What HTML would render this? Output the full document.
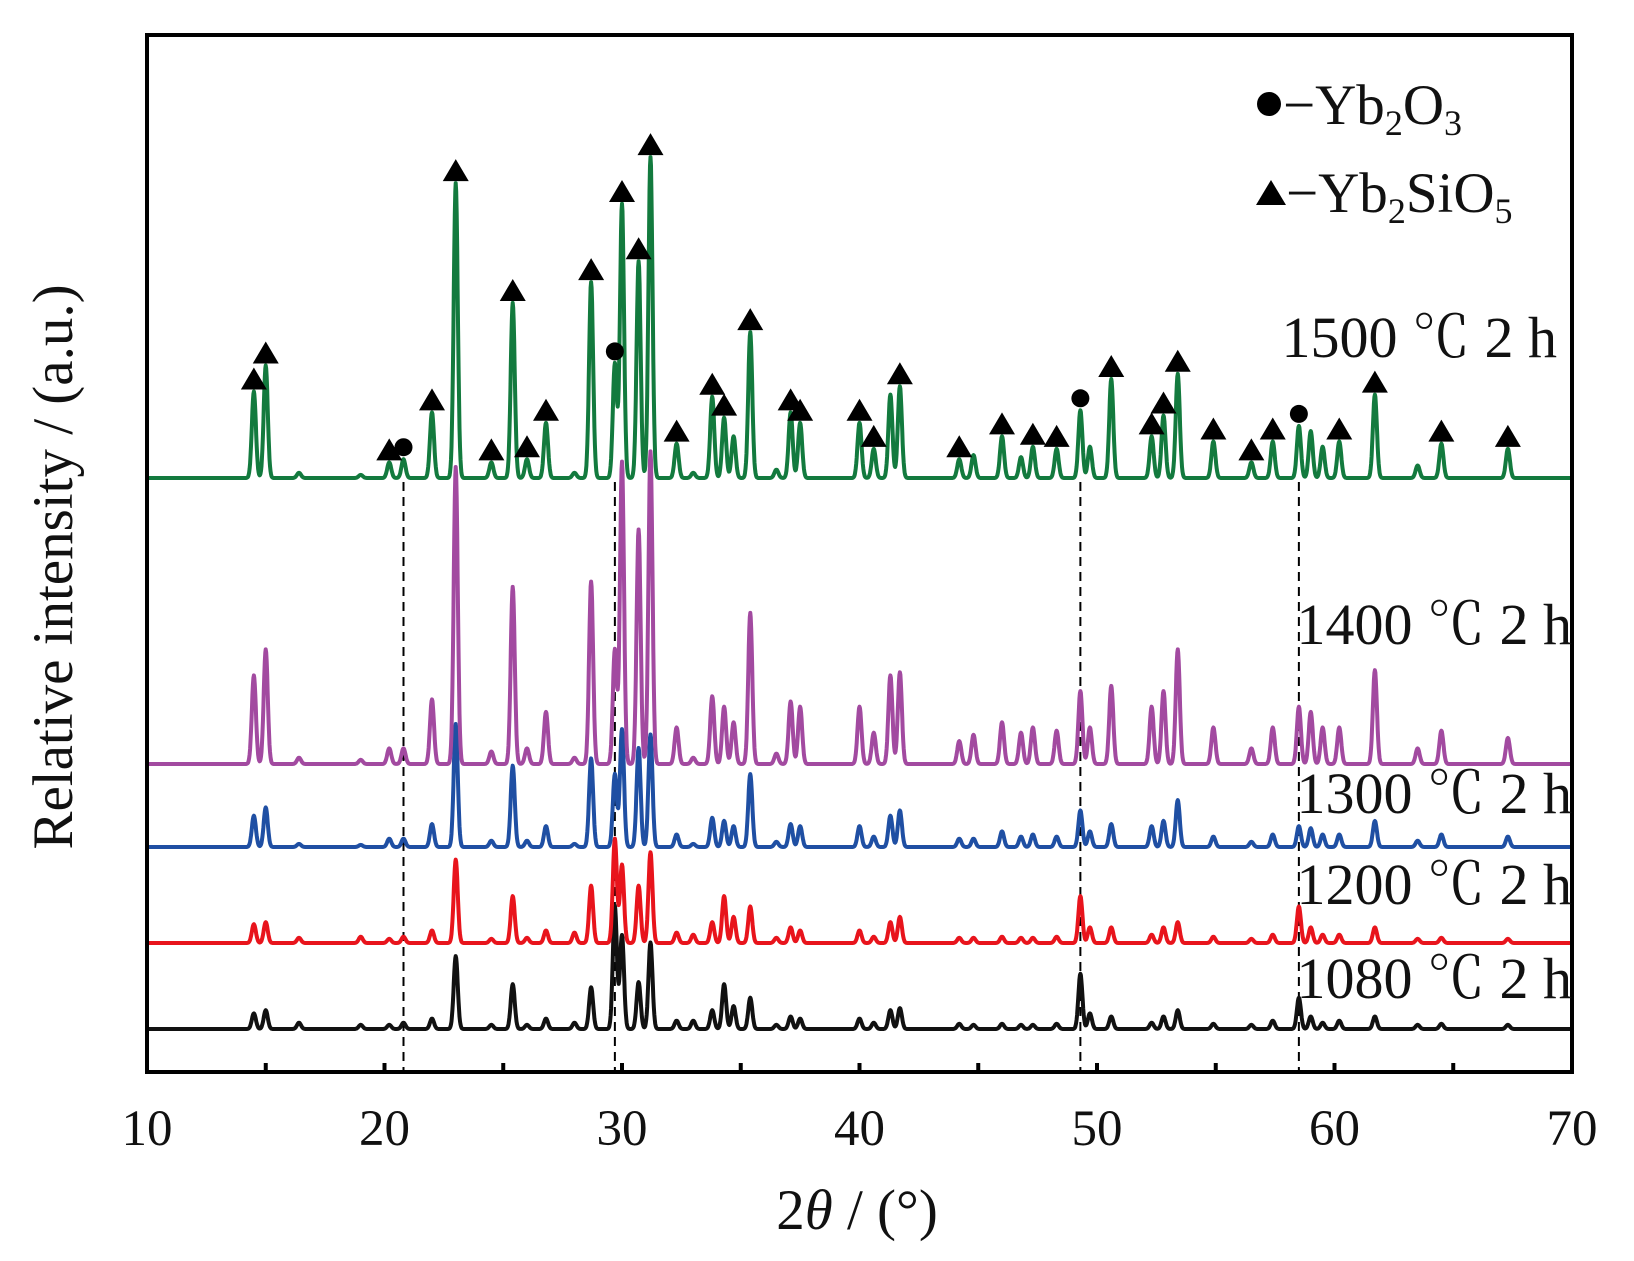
<!DOCTYPE html>
<html><head><meta charset="utf-8"><style>
html,body{margin:0;padding:0;background:#fff;}
svg{display:block;font-family:"Liberation Serif","Noto Serif CJK SC",serif;}
</style></head><body>
<svg id="chart" width="1634" height="1261" viewBox="0 0 1634 1261"></svg>
<script>
const positions=[14.5,15.0,16.4,19.0,20.2,20.8,22.0,23.0,24.5,25.4,26.0,26.8,28.0,28.7,29.7,30.0,30.7,31.2,32.3,33.0,33.8,34.3,34.7,35.4,36.5,37.1,37.5,40.0,40.6,41.3,41.7,44.2,44.8,46.0,46.8,47.3,48.3,49.3,49.7,50.6,52.3,52.8,53.4,54.9,56.5,57.4,58.5,59.0,59.5,60.2,61.7,63.5,64.5,67.3];
const green=[83,108,5,3,15,18,63,283,15,168,18,53,5,188,110,263,208,308,33,5,78,58,40,140,8,63,53,53,28,80,88,18,22,40,20,30,28,65,30,95,40,60,100,35,15,35,50,45,30,35,80,12,33,28];
const purple=[85,110,6,4,15,15,62,285,12,170,15,50,6,175,110,290,225,300,35,6,65,55,40,145,10,60,55,55,30,85,88,22,28,40,30,35,32,70,35,75,55,70,110,35,15,35,55,50,35,35,90,15,32,25];
const blue=[30,38,3,2,8,8,22,118,6,78,6,20,3,85,70,113,95,108,12,3,28,25,20,70,5,22,20,20,10,30,35,8,8,15,10,12,10,35,15,22,20,25,45,10,5,12,20,18,12,12,25,6,12,10];
const red=[18,20,5,6,4,6,12,80,4,45,5,12,10,55,100,75,55,87,10,8,20,45,25,35,5,15,12,12,6,20,25,5,5,6,5,5,6,45,15,15,8,15,20,6,4,8,35,15,8,8,15,4,5,4];
const black=[15,18,6,4,4,6,10,70,4,43,4,10,6,40,118,90,45,83,8,8,18,43,22,30,4,12,10,10,6,18,20,5,4,5,4,4,5,53,15,12,6,12,18,5,4,8,30,12,6,8,12,4,5,4];
const seriesNames=["1080 ℃ 2 h","1200 ℃ 2 h","1300 ℃ 2 h","1400 ℃ 2 h","1500 ℃ 2 h"];
const xTicks=[10,20,30,40,50,60,70];
const triPeaks=[14.5,15.0,20.2,22.0,23.0,24.5,25.4,26.0,26.8,28.7,30.0,30.7,31.2,32.3,33.8,34.3,35.4,37.1,37.5,40.0,40.6,41.7,44.2,46.0,47.3,48.3,50.6,52.3,52.8,53.4,54.9,56.5,57.4,60.2,61.7,64.5,67.3];
const circPeaks=[20.8,29.7,49.3,58.5];
const dashPos=[20.8,29.7,49.3,58.5];

const L=147,R=1572,T=35,B=1072,S=1.042;
const NS="http://www.w3.org/2000/svg";
const svg=document.getElementById('chart');
function X(v){return L+(v-10)*(R-L)/60;}
function mk(t,a,p){const e=document.createElementNS(NS,t);for(const k in a)e.setAttribute(k,a[k]);(p||svg).appendChild(e);return e;}
function inten(arr,x){let s=0;for(let i=0;i<positions.length;i++){const d=(x-positions[i])/0.085;s+=arr[i]*Math.exp(-0.5*d*d);}return s;}

dashPos.forEach(p=>{
  const l=mk('line',{x1:X(p),x2:X(p),y1:482,y2:B,stroke:'#000','stroke-width':2,'stroke-dasharray':'9,6'});
  
  
});

const specs=[[black,1029,'#111'],[red,943,'#e8141c'],[blue,847,'#1f4fa3'],[purple,764,'#a24aa0'],[green,478,'#137a3e']];
const keys=['1080','1200','1300','1400','1500'];
specs.forEach((sp,si)=>{
  let d='';
  for(let x=10;x<=70.001;x+=0.02){
    const y=sp[1]-inten(sp[0],x)*S;
    d+=(d?'L':'M')+X(x).toFixed(1)+','+y.toFixed(1);
  }
  const p=mk('path',{d:d,fill:'none',stroke:sp[2],'stroke-width':4,'stroke-linejoin':'round'});
  
  
});

triPeaks.forEach(p=>{
  const i=positions.indexOf(p);const top=478-green[i]*S;const cx=X(p);
  const t=mk('polygon',{points:`${cx-13},${top-2} ${cx+13},${top-2} ${cx},${top-24}`,fill:'#000'});
  
  
});
circPeaks.forEach(p=>{
  const i=positions.indexOf(p);const top=478-green[i]*S;
  const c=mk('circle',{cx:X(p),cy:top-12,r:9,fill:'#000'});
  
  
});

const fr=mk('rect',{x:L,y:T,width:R-L,height:B-T,fill:'none',stroke:'#000','stroke-width':4});


for(let v=15;v<70;v+=5){
  const tk=mk('line',{x1:X(v),x2:X(v),y1:B,y2:B-9,stroke:'#000','stroke-width':4});
  
  
}
xTicks.forEach(v=>{
  const t=mk('text',{x:X(v),y:1145,'font-size':51,'text-anchor':'middle',fill:'#111'});
  t.textContent=v;
  
  
});
const labelPos=[[1572,998],[1572,904],[1572,813],[1572,644],[1557,357]];
seriesNames.forEach((n,i)=>{
  const t=mk('text',{x:labelPos[i][0],y:labelPos[i][1],'font-size':58,'text-anchor':'end',fill:'#111'});
  t.textContent=n;
  
  
});
</script>
<svg style="position:absolute;left:0;top:0" width="1634" height="1261">
<g font-family="Liberation Serif, serif" fill="#111">
<circle cx="1269" cy="104" r="12" fill="#000"/>
<text x="1283" y="124" font-size="57">−Yb<tspan font-size="36" dy="11">2</tspan><tspan dy="-11">O</tspan><tspan font-size="36" dy="11">3</tspan></text>
<polygon points="1256,205 1286,205 1271,180" fill="#000"/>
<text x="1286" y="212" font-size="57">−Yb<tspan font-size="36" dy="11">2</tspan><tspan dy="-11">SiO</tspan><tspan font-size="36" dy="11">5</tspan></text>
<text x="857" y="1229" font-size="57" text-anchor="middle">2<tspan font-style="italic">θ</tspan> / (°)</text>
<text transform="translate(72,567) rotate(-90)" font-size="57" text-anchor="middle">Relative intensity / (a.u.)</text>
</g></svg>
</body></html>
